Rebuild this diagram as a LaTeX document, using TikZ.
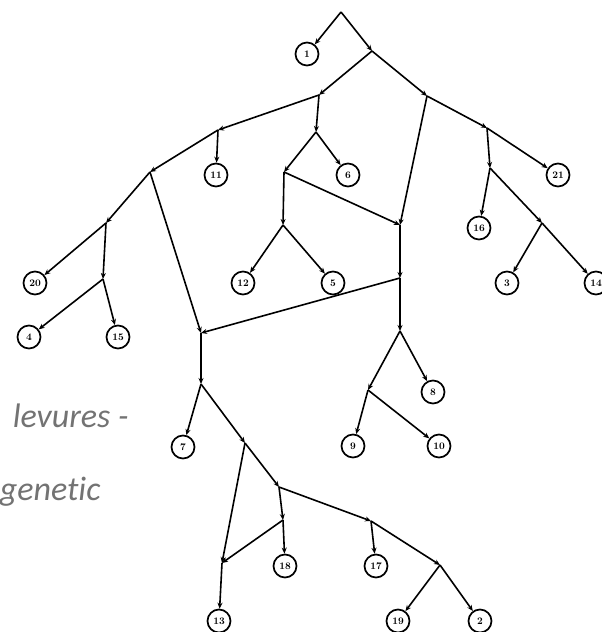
\documentclass[tikz,border=0pt]{standalone}
\usepackage{fontspec}
\newfontfamily\capfont[RawFeature=-liga]{Carlito}
\usetikzlibrary{arrows.meta}
\begin{document}
\begin{tikzpicture}[x=1pt,y=-1pt,>={Stealth[length=6pt,width=5pt]},line width=1.6pt,line join=round,
	leaf/.style={draw,circle,minimum size=23pt,inner sep=0pt,line width=1.7pt,font=\fontsize{10}{10}\selectfont\bfseries},
	caption/.style={anchor=base west,inner sep=0pt,text=black!55,font=\capfont\itshape\fontsize{34}{34}\selectfont}]
	\useasboundingbox (0,0) rectangle (602,632);
	\node[caption] (cap1) at (12,427) {levures -};
	\node[caption] (cap2) at (-1,500) {genetic};
	% inner points of the tree
	\coordinate (r) at (341,12);  \coordinate (a) at (372,51);  \coordinate (b) at (319,95);
	\coordinate (c) at (427,96);  \coordinate (e) at (218,130); \coordinate (f) at (150,172);
	\coordinate (g) at (316,132); \coordinate (h) at (284,172); \coordinate (i) at (283,225);
	\coordinate (j) at (400,225); \coordinate (d) at (487,128); \coordinate (m) at (490,168);
	\coordinate (n) at (542,223); \coordinate (y) at (106,223); \coordinate (z) at (103,279);
	\coordinate (k) at (400,278); \coordinate (q) at (201,333); \coordinate (p) at (400,331);
	\coordinate (o) at (368,390); \coordinate (s0) at (201,384); \coordinate (s) at (245,443);
	\coordinate (t) at (279,487); \coordinate (v) at (283,520); \coordinate (u) at (222,563);
	\coordinate (w) at (371,521); \coordinate (x) at (440,565);
	% leaves
	\foreach \lab/\px/\py in {1/307/54, 11/216/175, 6/348/175, 21/558/175, 16/479/228,
		20/35/283, 12/243/283, 5/333/283, 3/507/283, 14/596/283, 4/29/337, 15/118/337,
		8/433/392, 7/183/447, 9/353/446, 10/439/446, 18/285/566, 17/376/566,
		13/219/621, 19/398/621, 2/480/621}
		\node[leaf] (l\lab) at (\px,\py) {\lab};
	% arcs
	\foreach \u/\v in {r/l1, r/a, a/b, a/c, b/e, b/g, e/f, e/l11, f/y, f/q, y/l20, y/z,
		z/l4, z/l15, g/h, g/l6, h/i, h/j, i/l12, i/l5, c/j, c/d, d/m, d/l21, m/l16, m/n,
		n/l3, n/l14, j/k, k/q, k/p, p/o, p/l8, o/l9, o/l10, q/s0, s0/l7, s0/s, s/u, s/t,
		t/v, t/w, v/u, v/l18, u/l13, w/l17, w/x, x/l19, x/l2}
		\draw[->] (\u) -- (\v);
\end{tikzpicture}
\end{document}
